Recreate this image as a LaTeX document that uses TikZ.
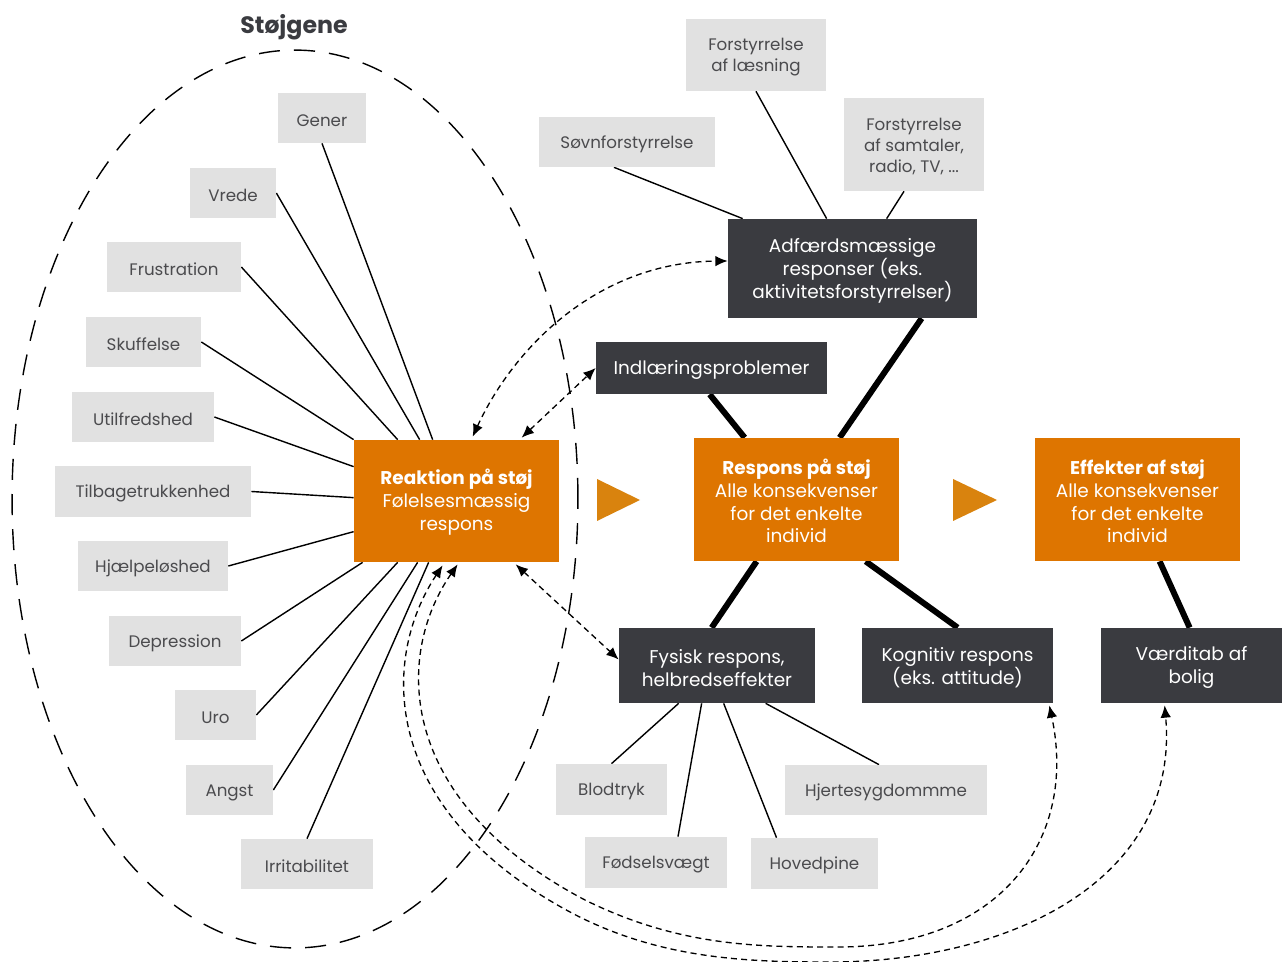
\documentclass[tikz,border=0pt]{standalone}
\usepackage{fontspec}
\setmainfont{Poppins}
\usetikzlibrary{calc,arrows.meta}
\definecolor{orng}{RGB}{222,117,0}
\definecolor{tri}{RGB}{217,131,14}
\definecolor{dark}{RGB}{58,59,64}
\definecolor{lgray}{RGB}{225,225,225}
\definecolor{gtext}{RGB}{75,75,78}
\newcommand\firstlinestrut{\rule{0pt}{1em}}
\pgfdeclarelayer{bg}
\pgfsetlayers{bg,main}
\tikzset{
  sz/.style 2 args={minimum width=#1*0.02cm, minimum height=#2*0.02cm},
  gbox/.style={fill=lgray, text=gtext, inner sep=0pt, align=center, font=\fontsize{9.5}{12}\selectfont},
  dbox/.style={fill=dark, text=white, inner sep=0pt, align=center, font=\fontsize{10.5}{13}\selectfont},
  obox/.style={fill=orng, text=white, inner sep=0pt, align=center, font=\fontsize{10.5}{13}\selectfont},
  conn/.style={line width=0.8pt, black},
  heavy/.style={line width=3.4pt, black},
  dsh/.style={line width=0.75pt, dash pattern=on 3.4pt off 2.4pt, >={Latex[length=7pt,width=6pt]}, <->},
  ell/.style={line width=0.8pt, dash pattern=on 12pt off 8pt},
}
\begin{document}
\begin{tikzpicture}[x=0.02cm, y=-0.02cm]
\useasboundingbox (0,0) rectangle (1282,962);

% title
\node[font=\fontsize{13.5}{16}\selectfont\bfseries, text=dark] (title) at (294,27) {Støjgene};

% left gray boxes
\node[gbox, sz={88}{50}] (gener) at (322,118) {\firstlinestrut Gener};
\node[gbox, sz={86}{50}] (vrede) at (233,193) {\firstlinestrut Vrede};
\node[gbox, sz={134}{50}] (frus) at (174,267) {\firstlinestrut Frustration};
\node[gbox, sz={115}{50}] (skuf) at (143.5,342) {\firstlinestrut Skuffelse};
\node[gbox, sz={142}{50}] (utilf) at (143,417) {\firstlinestrut Utilfredshed};
\node[gbox, sz={196}{51}] (tilb) at (153,491.5) {\firstlinestrut Tilbagetrukkenhed};
\node[gbox, sz={150}{50}] (hjaelp) at (153,566) {\firstlinestrut Hjælpeløshed};
\node[gbox, sz={132}{50}] (depr) at (175,641) {\firstlinestrut Depression};
\node[gbox, sz={81}{50}] (uro) at (215.5,715) {\firstlinestrut Uro};
\node[gbox, sz={87}{50}] (angst) at (229.5,790) {\firstlinestrut Angst};
\node[gbox, sz={132}{50}] (irrit) at (307,864) {\firstlinestrut Irritabilitet};

% orange boxes
\node[obox, sz={205}{122}] (reak) at (456.5,501) {\firstlinestrut\textbf{Reaktion på støj}\\Følelsesmæssig\\respons};
\node[obox, sz={205}{123}] (resp) at (796.5,499.5) {\firstlinestrut\textbf{Respons på støj}\\Alle konsekvenser\\for det enkelte\\individ};
\node[obox, sz={205}{123}] (eff) at (1137.5,499.5) {\firstlinestrut\textbf{Effekter af støj}\\Alle konsekvenser\\for det enkelte\\individ};

% orange triangles
\fill[tri] (597,479) -- (640,500) -- (597,521) -- cycle;
\fill[tri] (953,479) -- (997,500) -- (953,521) -- cycle;

% dark boxes
\node[dbox, sz={249}{99}] (adf) at (852.5,268.5) {\firstlinestrut Adfærdsmæssige\\responser (eks.\\aktivitetsforstyrrelser)};
\node[dbox, sz={231}{52}] (indl) at (711.5,368) {\firstlinestrut Indlæringsproblemer};
\node[dbox, sz={196}{75}] (fys) at (717,665.5) {\firstlinestrut Fysisk respons,\\helbredseffekter};
\node[dbox, sz={191}{75}] (kog) at (957.5,665.5) {\firstlinestrut Kognitiv respons\\(eks. attitude)};
\node[dbox, sz={181}{75}] (vaerd) at (1191.5,665.5) {\firstlinestrut Værditab af\\bolig};

% upper gray boxes
\node[gbox, sz={140}{72}] (laes) at (756,55) {\firstlinestrut Forstyrrelse\\af læsning};
\node[gbox, sz={176}{50}] (sovn) at (627,142) {\firstlinestrut Søvnforstyrrelse};
\node[gbox, sz={140}{93}] (samt) at (914,144.5) {\firstlinestrut Forstyrrelse\\af samtaler,\\radio, TV, ...};

% lower gray boxes
\node[gbox, sz={111}{51}] (blod) at (611.5,789.5) {\firstlinestrut Blodtryk};
\node[gbox, sz={142}{51}] (foed) at (656,862.5) {\firstlinestrut Fødselsvægt};
\node[gbox, sz={127}{51}] (hoved) at (814.5,863.5) {\firstlinestrut Hovedpine};
\node[gbox, sz={202}{50}] (hjerte) at (886,790) {\firstlinestrut Hjertesygdommme};

\begin{pgfonlayer}{bg}
% ellipse
\draw[ell] (295,499) ellipse [x radius=5.66cm, y radius=8.98cm];

% left connectors
\draw[conn] (gener.south) -- ($(reak.north west)+(79,0)$);
\draw[conn] (vrede.east) -- ($(reak.north west)+(66,0)$);
\draw[conn] (frus.east) -- ($(reak.north west)+(44,0)$);
\draw[conn] (skuf.east) -- (reak.north west);
\draw[conn] (utilf.east) -- ($(reak.north west)+(0,27)$);
\draw[conn] (tilb.east) -- ($(reak.north west)+(0,58)$);
\draw[conn] (hjaelp.east) -- ($(reak.north west)+(0,92)$);
\draw[conn] (depr.east) -- ($(reak.south west)+(9,0)$);
\draw[conn] (uro.east) -- ($(reak.south west)+(44,0)$);
\draw[conn] (angst.east) -- ($(reak.south west)+(64,0)$);
\draw[conn] (irrit.north) -- ($(reak.south west)+(75,0)$);

% upper connectors
\draw[conn] (laes.south) -- ($(adf.north west)+(99,0)$);
\draw[conn] ($(sovn.south)+(-13,0)$) -- ($(adf.north west)+(15,0)$);
\draw[conn] ($(samt.south)+(-10,0)$) -- ($(adf.north west)+(159,0)$);

% lower connectors
\draw[conn] (blod.north) -- ($(fys.south west)+(60,0)$);
\draw[conn] ($(foed.north)+(22,0)$) -- ($(fys.south west)+(83,0)$);
\draw[conn] ($(hoved.north)+(-38,0)$) -- ($(fys.south west)+(105,0)$);
\draw[conn] ($(hjerte.north)+(-7,0)$) -- ($(fys.south west)+(147,0)$);

% heavy connectors
\draw[heavy] ($(adf.south west)+(194,0)$) -- ($(resp.north west)+(146,0)$);
\draw[heavy] ($(indl.south west)+(114,0)$) -- ($(resp.north west)+(51,0)$);
\draw[heavy] ($(resp.south west)+(63,0)$) -- ($(fys.north west)+(93,0)$);
\draw[heavy] ($(resp.south west)+(172,0)$) -- ($(kog.north west)+(96,0)$);
\draw[heavy] ($(eff.south west)+(125,0)$) -- ($(vaerd.north west)+(89,0)$);
\end{pgfonlayer}

% dashed arrows
\draw[dsh] ($(reak.north west)+(119,-3)$) .. controls (515,345) and (600,262) .. ($(adf.west)+(0,-7.5)$);
\draw[dsh] ($(reak.north west)+(168,-2)$) -- (indl.west);
\draw[dsh] ($(reak.south west)+(162,2)$) -- ($(fys.west)+(0,-6)$);
\draw[dsh] ($(reak.south west)+(104,2)$) .. controls (395,655) and (395,800) .. (585,900)
  .. controls (680,947) and (760,947) .. (838,947)
  .. controls (1000,947) and (1078,840) .. ($(kog.south east)+(-4,2)$);
\draw[dsh] ($(reak.south west)+(89,3)$) .. controls (380,660) and (380,810) .. (570,912)
  .. controls (660,960) and (750,962) .. (830,962)
  .. controls (1010,962) and (1180,880) .. ($(vaerd.south west)+(64,2)$);
\end{tikzpicture}
\end{document}
